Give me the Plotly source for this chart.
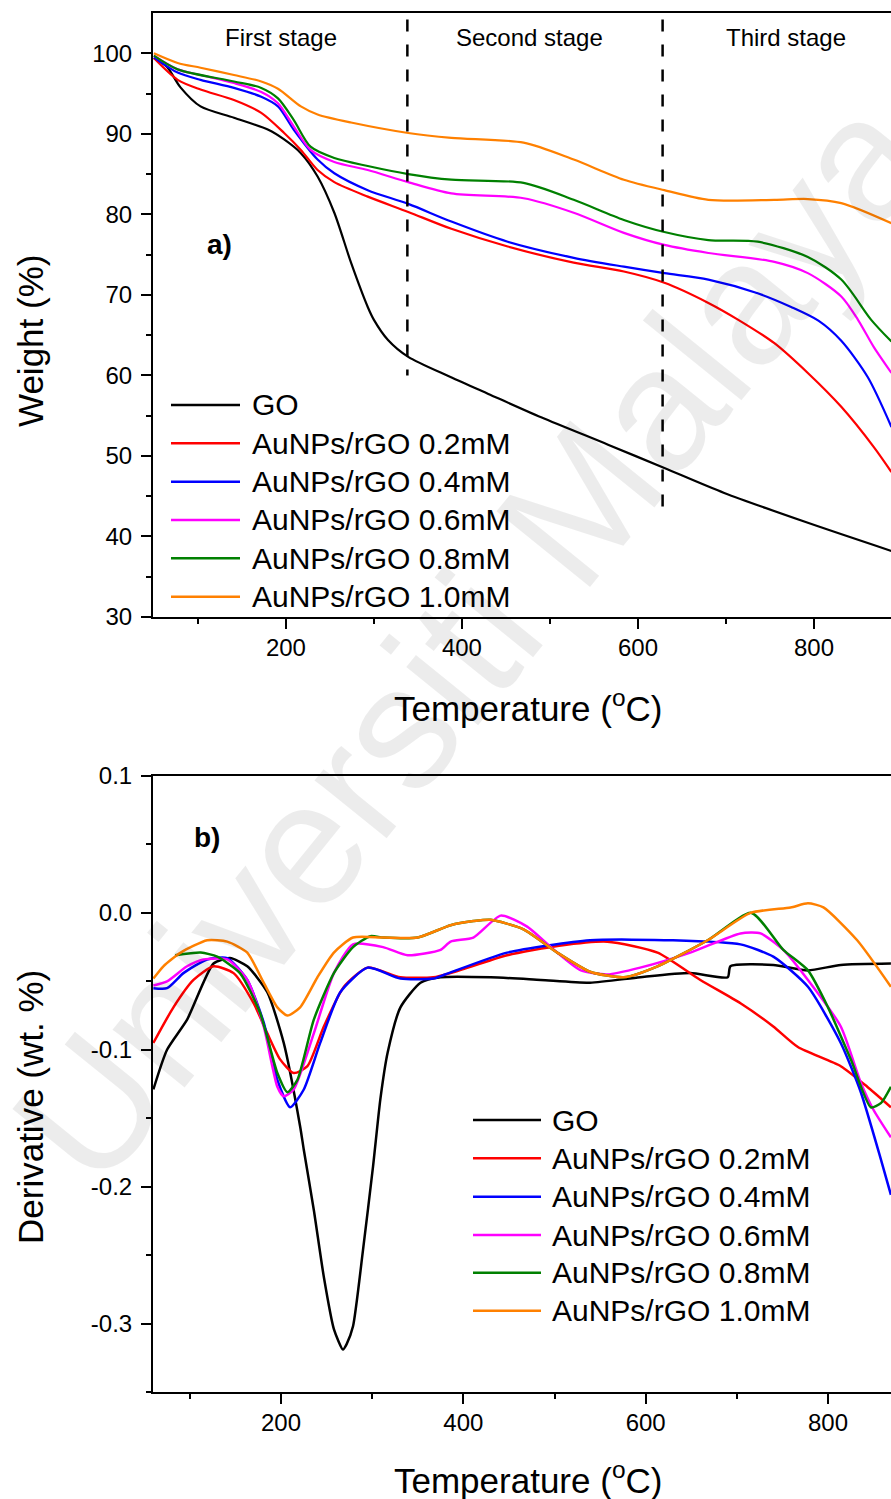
import plotly.graph_objects as go

# ---------------- data ----------------
series_names = ["GO", "AuNPs/rGO 0.2mM", "AuNPs/rGO 0.4mM",
                "AuNPs/rGO 0.6mM", "AuNPs/rGO 0.8mM", "AuNPs/rGO 1.0mM"]
series_colors = ["#000000", "#ff0000", "#0000ff", "#ff00ff", "#008000", "#ff8000"]

# (a) TGA weight (%) vs temperature
tga_go_T = [50, 65, 80, 103, 141, 180, 198, 217, 236, 255, 274, 293, 300, 316, 339, 387, 430, 490, 566, 630, 698, 793, 888]
tga_go_W = [99.4, 98.3, 95.8, 93.4, 92.0, 90.5, 89.3, 87.6, 84.7, 80.2, 74.0, 68.5, 66.9, 64.4, 62.3, 59.8, 57.7, 54.8, 51.4, 48.5, 45.4, 41.7, 38.2]
tga_02_T = [50, 77, 103, 141, 172, 198, 217, 236, 255, 293, 339, 388, 452, 527, 584, 630, 680, 714, 755, 793, 831, 868, 888]
tga_02_W = [99.4, 96.7, 95.5, 94.2, 92.6, 90.1, 88.0, 85.5, 84.0, 82.2, 80.3, 78.2, 76.0, 74.0, 72.9, 71.5, 69.0, 66.9, 64.0, 60.3, 56.1, 51.1, 48.0]
tga_04_T = [50, 77, 103, 141, 172, 191, 209, 236, 255, 293, 339, 388, 452, 527, 584, 630, 680, 736, 774, 805, 831, 861, 888]
tga_04_W = [99.5, 97.6, 96.7, 95.7, 94.6, 93.4, 90.5, 86.8, 85.1, 83.0, 81.3, 79.1, 76.6, 74.6, 73.5, 72.7, 71.9, 70.2, 68.5, 66.8, 64.3, 59.8, 53.6]
tga_06_T = [50, 77, 103, 141, 172, 191, 209, 228, 255, 293, 339, 388, 470, 527, 584, 630, 680, 755, 793, 831, 850, 868, 888]
tga_06_W = [99.7, 98.0, 97.3, 96.3, 95.2, 93.8, 90.9, 88.0, 86.5, 85.5, 84.0, 82.6, 82.0, 80.2, 77.7, 76.2, 75.2, 74.1, 72.7, 69.8, 66.9, 63.5, 60.3]
tga_08_T = [50, 77, 141, 172, 191, 209, 228, 255, 293, 339, 388, 470, 527, 584, 630, 680, 736, 793, 831, 865, 888]
tga_08_W = [99.7, 98.0, 96.5, 95.7, 94.4, 91.7, 88.4, 87.0, 86.0, 85.0, 84.3, 83.9, 81.8, 79.3, 77.8, 76.8, 76.6, 74.7, 71.9, 66.9, 64.2]
tga_10_T = [50, 77, 103, 141, 172, 191, 217, 236, 274, 339, 388, 470, 527, 584, 630, 680, 755, 793, 831, 888]
tga_10_W = [100.0, 98.8, 98.2, 97.3, 96.5, 95.6, 93.4, 92.4, 91.4, 90.1, 89.5, 88.9, 86.8, 84.3, 83.0, 81.8, 81.8, 81.9, 81.4, 78.9]

# (b) DTG derivative (wt. %) vs temperature
dtg_go_T = [60, 75, 97, 126, 144, 163, 185, 203, 221, 225, 236, 247, 258, 268, 272, 279, 290, 301, 309, 317, 331, 353, 375, 430, 485, 539, 594, 649, 690, 693, 740, 778, 814, 869]
dtg_go_D = [-0.129, -0.100, -0.078, -0.037, -0.033, -0.039, -0.058, -0.095, -0.156, -0.173, -0.217, -0.266, -0.304, -0.319, -0.315, -0.302, -0.246, -0.185, -0.136, -0.102, -0.069, -0.051, -0.047, -0.047, -0.049, -0.051, -0.047, -0.044, -0.047, -0.039, -0.038, -0.042, -0.038, -0.037]
dtg_02_T = [60, 82, 104, 126, 148, 170, 185, 199, 214, 229, 247, 269, 295, 331, 367, 386, 448, 505, 558, 613, 660, 704, 740, 767, 814, 843, 869]
dtg_02_D = [-0.095, -0.069, -0.049, -0.039, -0.044, -0.066, -0.088, -0.107, -0.117, -0.112, -0.083, -0.054, -0.040, -0.047, -0.047, -0.044, -0.031, -0.024, -0.021, -0.029, -0.049, -0.066, -0.083, -0.098, -0.112, -0.127, -0.142]
dtg_04_T = [60, 75, 93, 119, 141, 163, 181, 196, 210, 225, 243, 265, 295, 331, 367, 380, 448, 539, 630, 704, 740, 778, 814, 836, 858, 869]
dtg_04_D = [-0.055, -0.055, -0.044, -0.034, -0.033, -0.049, -0.080, -0.122, -0.142, -0.129, -0.095, -0.058, -0.040, -0.048, -0.048, -0.045, -0.029, -0.020, -0.020, -0.023, -0.032, -0.054, -0.095, -0.131, -0.180, -0.206]
dtg_06_T = [60, 75, 97, 115, 141, 163, 181, 196, 203, 214, 236, 258, 279, 312, 339, 375, 386, 411, 441, 470, 496, 529, 558, 594, 649, 704, 726, 751, 778, 814, 836, 850, 869]
dtg_06_D = [-0.053, -0.050, -0.039, -0.034, -0.034, -0.049, -0.083, -0.127, -0.134, -0.129, -0.088, -0.044, -0.023, -0.025, -0.031, -0.027, -0.021, -0.018, -0.002, -0.010, -0.025, -0.042, -0.045, -0.040, -0.029, -0.015, -0.015, -0.027, -0.049, -0.083, -0.124, -0.144, -0.164]
dtg_08_T = [84, 112, 130, 155, 177, 196, 207, 218, 236, 258, 279, 298, 312, 350, 386, 411, 430, 466, 503, 539, 576, 613, 668, 716, 751, 778, 800, 825, 847, 858, 869]
dtg_08_D = [-0.031, -0.029, -0.032, -0.044, -0.073, -0.117, -0.131, -0.122, -0.078, -0.044, -0.025, -0.017, -0.018, -0.018, -0.009, -0.006, -0.005, -0.012, -0.029, -0.043, -0.047, -0.039, -0.020, 0.000, -0.027, -0.042, -0.069, -0.107, -0.142, -0.139, -0.127]
dtg_10_T = [60, 71, 90, 119, 141, 163, 181, 196, 207, 221, 240, 258, 279, 312, 350, 386, 411, 430, 466, 503, 539, 576, 613, 668, 715, 759, 778, 795, 832, 869]
dtg_10_D = [-0.048, -0.039, -0.029, -0.020, -0.021, -0.029, -0.051, -0.069, -0.075, -0.069, -0.047, -0.029, -0.018, -0.018, -0.018, -0.009, -0.006, -0.005, -0.012, -0.029, -0.043, -0.047, -0.039, -0.020, 0.000, 0.004, 0.007, 0.004, -0.020, -0.054]

tga_T = [tga_go_T, tga_02_T, tga_04_T, tga_06_T, tga_08_T, tga_10_T]
tga_W = [tga_go_W, tga_02_W, tga_04_W, tga_06_W, tga_08_W, tga_10_W]
dtg_T = [dtg_go_T, dtg_02_T, dtg_04_T, dtg_06_T, dtg_08_T, dtg_10_T]
dtg_D = [dtg_go_D, dtg_02_D, dtg_04_D, dtg_06_D, dtg_08_D, dtg_10_D]

stage_labels = ["First stage", "Second stage", "Third stage"]
stage_label_T = [194, 477, 768]
stage_bounds_T = [338, 628]
stage_bounds_bottom_W = [60.0, 42.4]

x_tickvals = [200, 400, 600, 800]
x_ticktext = ["200", "400", "600", "800"]
tga_tickvals = [30, 40, 50, 60, 70, 80, 90, 100]
tga_ticktext = ["30", "40", "50", "60", "70", "80", "90", "100"]
dtg_tickvals = [-0.3, -0.2, -0.1, 0.0, 0.1]
dtg_ticktext = ["-0.3", "-0.2", "-0.1", "0.0", "0.1"]

# ---------------- layout helpers ----------------
W, H = 891, 1499
FONT = "Arial, 'Liberation Sans', sans-serif"


def px(x):
    return x / W


def py(y):
    return 1 - y / H


fig = go.Figure()

for i, name in enumerate(series_names):
    fig.add_trace(go.Scatter(x=tga_T[i], y=tga_W[i], mode="lines", name=name,
                             line=dict(color=series_colors[i], width=2.2, shape="spline", smoothing=0.8),
                             xaxis="x", yaxis="y", showlegend=False))
for i, name in enumerate(series_names):
    fig.add_trace(go.Scatter(x=dtg_T[i], y=dtg_D[i], mode="lines", name=name,
                             line=dict(color=series_colors[i], width=2.5, shape="spline", smoothing=0.6),
                             xaxis="x2", yaxis="y2", showlegend=False))

axis_common = dict(showgrid=False, zeroline=False, showline=True, linecolor="black",
                   linewidth=2, ticks="outside", ticklen=10, tickwidth=2, automargin=False,
                   tickcolor="black", tickfont=dict(family=FONT, size=24, color="black"))

fig.update_layout(
    template="none",
    width=W, height=H,
    margin=dict(l=0, r=0, t=0, b=0, pad=0, autoexpand=False),
    paper_bgcolor="white", plot_bgcolor="rgba(0,0,0,0)",
    font=dict(family=FONT, color="black"),
    showlegend=False,
    xaxis=dict(domain=[px(153), 1.0], range=[49, 887.5], anchor="y", mirror=True,
               tickmode="array", tickvals=x_tickvals, ticktext=x_ticktext, ticklabelstandoff=-2,
               minor=dict(tickvals=[100, 300, 500, 700], ticklen=5, tickwidth=2,
                          ticks="outside", tickcolor="black"),
               **axis_common),
    yaxis=dict(domain=[py(617), py(13)], range=[30, 105], anchor="x",
               tickmode="array", tickvals=tga_tickvals, ticktext=tga_ticktext, ticklabelstandoff=4,
               minor=dict(tickvals=[35, 45, 55, 65, 75, 85, 95], ticklen=5, tickwidth=2,
                          ticks="outside", tickcolor="black"),
               **axis_common),
    xaxis2=dict(domain=[px(153), 1.0], range=[59.6, 869.1], anchor="y2", mirror=True,
                tickmode="array", tickvals=x_tickvals, ticktext=x_ticktext, ticklabelstandoff=-2,
                minor=dict(tickvals=[100, 300, 500, 700], ticklen=5, tickwidth=2,
                           ticks="outside", tickcolor="black"),
                **axis_common),
    yaxis2=dict(domain=[py(1392), py(776)], range=[-0.35, 0.1], anchor="x2",
                tickmode="array", tickvals=dtg_tickvals, ticktext=dtg_ticktext, ticklabelstandoff=4,
                minor=dict(tickvals=[-0.35, -0.25, -0.15, -0.05, 0.05], ticklen=5, tickwidth=2,
                           ticks="outside", tickcolor="black"),
                **axis_common),
)

shapes = []
annotations = []

# stage boundaries (dashed)
for t, yb in zip(stage_bounds_T, stage_bounds_bottom_W):
    shapes.append(dict(type="line", xref="x", yref="y", x0=t, x1=t, y0=104.2, y1=yb,
                       line=dict(color="black", width=2.5, dash="12px,13px")))

for lab, t in zip(stage_labels, stage_label_T):
    annotations.append(dict(text=lab, xref="x", yref="y", x=t, y=102.0,
                            showarrow=False, xanchor="center", yanchor="middle",
                            font=dict(family=FONT, size=24, color="black")))

# panel labels
annotations.append(dict(text="<b>a)</b>", xref="x", yref="y", x=124, y=76.2, showarrow=False,
                        font=dict(family=FONT, size=28, color="black")))
annotations.append(dict(text="<b>b)</b>", xref="x2", yref="y2", x=118.8, y=0.0554, showarrow=False,
                        font=dict(family=FONT, size=28, color="black")))

# axis titles
annotations.append(dict(text="Weight (%)", xref="paper", yref="paper", x=px(30), y=py(341),
                        textangle=-90, showarrow=False, xanchor="center", yanchor="middle",
                        font=dict(family=FONT, size=35, color="black")))
annotations.append(dict(text="Derivative (wt. %)", xref="paper", yref="paper", x=px(30), y=py(1107),
                        textangle=-90, showarrow=False, xanchor="center", yanchor="middle",
                        font=dict(family=FONT, size=35, color="black")))
for yy in [706, 1478]:
    annotations.append(dict(text="Temperature (<sup>o</sup>C)", xref="paper", yref="paper",
                            x=px(528), y=py(yy), showarrow=False, xanchor="center", yanchor="middle",
                            font=dict(family=FONT, size=35, color="black")))

# manual legends
legend_specs = [
    dict(x0=171, x1=240, xt=250, rows=[405, 443.3, 481.7, 520, 558.3, 596.7]),
    dict(x0=473, x1=541, xt=550, rows=[1120, 1158.3, 1196.7, 1235, 1272.7, 1310.7]),
]
for spec in legend_specs:
    for i, name in enumerate(series_names):
        yy = spec["rows"][i]
        shapes.append(dict(type="line", xref="paper", yref="paper",
                           x0=px(spec["x0"]), x1=px(spec["x1"]), y0=py(yy), y1=py(yy),
                           line=dict(color=series_colors[i], width=2.5)))
        annotations.append(dict(text=name, xref="paper", yref="paper", x=px(spec["xt"]), y=py(yy),
                                showarrow=False, xanchor="left", yanchor="middle",
                                font=dict(family=FONT, size=30, color="black")))

# watermark
annotations.append(dict(text="Universiti Malaya", xref="paper", yref="paper", x=px(470), y=py(640),
                        textangle=-51, showarrow=False, xanchor="center", yanchor="middle",
                        font=dict(family=FONT, size=175, color="rgba(0,0,0,0.075)")))

fig.update_layout(shapes=shapes, annotations=annotations)

fig.write_html("out.html")
